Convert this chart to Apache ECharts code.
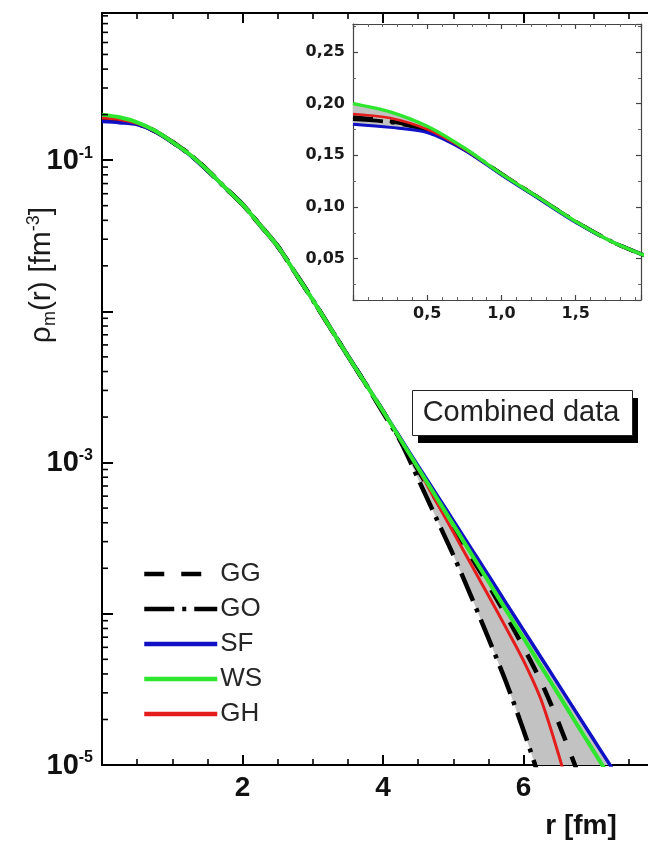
<!DOCTYPE html>
<html>
<head>
<meta charset="utf-8">
<script src="https://cdn.jsdelivr.net/npm/echarts@6/dist/echarts.min.js"></script>
<style>
html,body{margin:0;padding:0;background:#fff;}
#chart{width:648px;height:847px;}
</style>
</head>
<body>
<div id="chart"></div>
<script>
// ---- data ----
const R  = [0,0.25,0.5,0.75,1,1.25,1.5,1.75,2,2.25,2.5,2.75,3,3.25,3.5,3.75,4,4.25,4.5,4.75,5,5.25,5.5,5.75,6,6.25,6.5,6.75,7,7.25,7.5];
const WS = [0.200,0.192,0.178,0.157,0.132,0.109,0.086,0.066,0.051,0.0372,0.0270,0.0180,0.0119,0.00777,0.00507,0.00333,0.00219,0.00142,0.00092,0.000599,0.000389,0.000252,0.000164,0.000106,0.0000692,0.0000449,0.0000292,0.0000189,0.0000123,0.0000080,0.0000052];
const SF = [0.180,0.177,0.172,0.155,0.131,0.108,0.085,0.066,0.051,0.0372,0.0270,0.0180,0.0119,0.00778,0.00508,0.00335,0.00220,0.00145,0.00095,0.000628,0.000414,0.000273,0.000180,0.000118,0.0000780,0.0000514,0.0000339,0.0000223,0.0000147,0.0000097,0.0000064];
const GH = [0.190,0.186,0.175,0.156,0.132,0.109,0.086,0.066,0.051,0.0372,0.0270,0.0180,0.0119,0.00777,0.00507,0.00333,0.00219,0.00142,0.00091,0.000560,0.000347,0.000214,0.000132,0.0000810,0.0000490,0.0000270,0.0000117,0.0000045,null,null,null];
const GG = [0.187,0.183,0.175,0.156,0.132,0.109,0.086,0.066,0.051,0.0372,0.0270,0.0180,0.0119,0.00777,0.00507,0.00333,0.00219,0.00141,0.00089,0.000575,0.000372,0.000240,0.000155,0.0000980,0.0000600,0.0000355,0.0000190,0.0000095,null,null,null];
const GO = [0.185,0.182,0.174,0.156,0.132,0.109,0.086,0.066,0.051,0.0372,0.0270,0.0180,0.0119,0.00777,0.00507,0.00333,0.00214,0.00138,0.00078,0.000437,0.000245,0.000132,0.000069,0.0000355,0.0000170,0.0000076,null,null,null,null,null];

// axis ranges and tick labels
const X_MIN = 0, X_MAX = 8;
const Y_MIN = 1e-5, Y_MAX = 0.94;
const xTickLabels = [2, 4, 6];
const yLabelExponents = [-5, -3, -1];
const IN_X_MIN = 0, IN_X_MAX = 1.94;
const IN_Y_MIN = 0.01, IN_Y_MAX = 0.277;
const insetXTickLabels = [0.5, 1.0, 1.5];
const insetYTickLabels = [0.05, 0.10, 0.15, 0.20, 0.25];
const logMinorMultipliers = [2,3,4,5,6,7,8,9];
const logDecades = [-5,-4,-3,-2,-1];

const FONT = '"Liberation Sans", Arial, sans-serif';

// ---- derived ----
const models = [GG, GO, SF, WS, GH];
const bandLo = R.map((r, i) => {
  const vals = models.map(m => m[i]);
  if (vals.some(v => v == null)) return Y_MIN * 0.5;
  return Math.min.apply(null, vals);
});
const bandHi = R.map((r, i) => Math.max.apply(null, models.map(m => m[i]).filter(v => v != null)));
const pairs = arr => R.map((r, i) => [r, arr[i]]).filter(p => p[1] != null);

const minorTickVals = [];
logDecades.forEach(e => logMinorMultipliers.forEach(k => {
  const v = k * Math.pow(10, e);
  if (v < Y_MAX) minorTickVals.push([0, v]);
}));

const chart = echarts.init(document.getElementById('chart'), null, {renderer: 'canvas'});

function bandRender() {
  return function (params, api) {
    if (params.dataIndex !== 0) return null;
    const top = R.map((r, i) => api.coord([r, bandHi[i]]));
    const bot = R.map((r, i) => api.coord([r, bandLo[i]])).reverse();
    return {
      type: 'polygon',
      shape: {points: top.concat(bot)},
      style: {fill: '#c2c2c2', stroke: null}
    };
  };
}

const styles = {
  GG: {color: '#000', width: 4.5, type: [20, 17]},
  GO: {color: '#000', width: 4.5, type: [30, 8, 4, 8]},
  SF: {color: '#1010c4', width: 3.5, type: 'solid'},
  WS: {color: '#2ee62e', width: 4, type: 'solid'},
  GH: {color: '#e41c1c', width: 3, type: 'solid'}
};
const dataMap = {GG, GO, SF, WS, GH};
const drawOrder = ['GO', 'GG', 'SF', 'GH', 'WS'];

function lineSeries(name, xIdx, yIdx, widthScale) {
  const s = styles[name];
  return {
    type: 'line', name: name,
    xAxisIndex: xIdx, yAxisIndex: yIdx,
    data: pairs(dataMap[name]),
    showSymbol: false, symbol: 'none',
    smooth: 0.3, clip: true,
    lineStyle: {color: s.color, width: s.width * widthScale, type: s.type},
    itemStyle: {color: s.color},
    emphasis: {disabled: true},
    z: 3
  };
}

const series = [];
series.push({
  type: 'custom', name: 'band', xAxisIndex: 0, yAxisIndex: 0, clip: true, silent: true,
  data: R.map((r, i) => [r, bandLo[i], bandHi[i]]), renderItem: bandRender(), z: 2
});
drawOrder.forEach(n => series.push(lineSeries(n, 0, 0, 1)));
series.push({
  type: 'custom', name: 'insetBand', xAxisIndex: 2, yAxisIndex: 1, clip: true, silent: true,
  data: R.map((r, i) => [r, bandLo[i], bandHi[i]]), renderItem: bandRender(), z: 2
});
drawOrder.forEach(n => series.push(lineSeries(n, 2, 1, 0.85)));
// log minor ticks on the main y axis
series.push({
  type: 'custom', name: 'logMinorTicks', xAxisIndex: 0, yAxisIndex: 0, silent: true,
  data: minorTickVals,
  renderItem: function (params, api) {
    const p = api.coord([api.value(0), api.value(1)]);
    return {type: 'line', shape: {x1: p[0], y1: p[1], x2: p[0] + 6, y2: p[1]},
            style: {stroke: '#000', lineWidth: 1.6}};
  },
  z: 5
});

const near = (a, b) => Math.abs(a - b) < 1e-6;
const commaFmt = (v, d) => v.toFixed(d).replace('.', ',');

const option = {
  animation: false,
  backgroundColor: '#fff',
  textStyle: {fontFamily: FONT},
  grid: [
    {left: 102, top: 13, width: 562, height: 752, outerBoundsMode: 'none', containLabel: false},
    {left: 353, top: 24, width: 288, height: 276, outerBoundsMode: 'none', containLabel: false}
  ],
  legend: {
    data: ['GG', 'GO', 'SF', 'WS', 'GH'],
    orient: 'vertical', left: 137, top: 556,
    itemWidth: 73, itemHeight: 14, itemGap: 9,
    selectedMode: false,
    itemStyle: {opacity: 0, borderWidth: 0},
    lineStyle: {width: 4.5},
    textStyle: {fontFamily: FONT, fontSize: 26, color: '#262626', lineHeight: 26, padding: [0, 0, 0, -2]}
  },
  xAxis: [
    {
      type: 'value', gridIndex: 0, position: 'bottom', min: X_MIN, max: X_MAX, interval: 2,
      axisLine: {show: true, onZero: false, lineStyle: {color: '#000', width: 2}},
      axisTick: {show: true, inside: true, length: 10, lineStyle: {color: '#000', width: 2}},
      minorTick: {show: true, splitNumber: 4, length: 6, lineStyle: {color: '#000', width: 1.6}},
      splitLine: {show: false},
      axisLabel: {
        margin: 9, fontFamily: FONT, fontSize: 28, fontWeight: 'bold', color: '#111',
        formatter: v => xTickLabels.some(t => near(t, v)) ? String(v) : ''
      },
      name: 'r [fm]', nameLocation: 'middle', nameGap: 47, nameMoveOverlap: false,
      nameTextStyle: {fontFamily: FONT, fontSize: 28, fontWeight: 'bold', color: '#111', lineHeight: 28, padding: [0, 0, 0, 396]}
    },
    {
      type: 'value', gridIndex: 0, position: 'top', min: X_MIN, max: X_MAX, interval: 2,
      axisLine: {show: true, onZero: false, lineStyle: {color: '#000', width: 2}},
      axisTick: {show: true, inside: true, length: 10, lineStyle: {color: '#000', width: 2}},
      minorTick: {show: true, splitNumber: 4, length: 6, lineStyle: {color: '#000', width: 1.6}},
      splitLine: {show: false}, axisLabel: {show: false}
    },
    {
      type: 'value', gridIndex: 1, position: 'bottom', min: IN_X_MIN, max: IN_X_MAX, interval: 0.5,
      axisLine: {show: true, onZero: false, lineStyle: {color: '#444', width: 1.2}},
      axisTick: {show: true, inside: true, length: 5, lineStyle: {color: '#444', width: 1.2}},
      minorTick: {show: true, splitNumber: 5, length: 3, lineStyle: {color: '#666', width: 1}},
      splitLine: {show: false},
      axisLabel: {
        margin: 6, fontFamily: '"DejaVu Sans", sans-serif', fontSize: 16, fontWeight: 'bold', color: '#1a1a1a',
        formatter: v => insetXTickLabels.some(t => near(t, v)) ? commaFmt(v, 1) : ''
      }
    },
    {
      type: 'value', gridIndex: 1, position: 'top', min: IN_X_MIN, max: IN_X_MAX, interval: 0.5,
      axisLine: {show: true, onZero: false, lineStyle: {color: '#444', width: 1.2}},
      axisTick: {show: true, inside: true, length: 5, lineStyle: {color: '#444', width: 1.2}},
      minorTick: {show: true, splitNumber: 5, length: 3, lineStyle: {color: '#666', width: 1}},
      splitLine: {show: false}, axisLabel: {show: false}
    }
  ],
  yAxis: [
    {
      type: 'log', logBase: 10, gridIndex: 0, position: 'left', min: Y_MIN, max: Y_MAX,
      axisLine: {show: true, onZero: false, lineStyle: {color: '#000', width: 2}},
      axisTick: {show: true, inside: true, length: 11, lineStyle: {color: '#000', width: 2}},
      minorTick: {show: false}, splitLine: {show: false},
      axisLabel: {
        margin: 9, color: '#111',
        formatter: function (v) {
          const lg = Math.log10(v), e = Math.round(lg);
          if (Math.abs(lg - e) > 1e-6 || yLabelExponents.indexOf(e) < 0) return '';
          return '{b|10}{s|' + e + '}';
        },
        rich: {
          b: {fontFamily: FONT, fontSize: 29, fontWeight: 'bold', color: '#111', lineHeight: 30, verticalAlign: 'bottom'},
          s: {fontFamily: FONT, fontSize: 16, fontWeight: 'bold', color: '#111', lineHeight: 30, verticalAlign: 'top'}
        }
      },
      name: '{a|ρ}{m|m}{a|(r) [fm}{p|-3}{a|]}',
      nameLocation: 'middle', nameRotate: 90, nameGap: 43, nameMoveOverlap: false,
      nameTextStyle: {
        padding: [0, 0, 0, 228],
        rich: {
          a: {fontFamily: FONT, fontSize: 30, color: '#1a1a1a', lineHeight: 34, verticalAlign: 'middle'},
          m: {fontFamily: FONT, fontSize: 18, color: '#1a1a1a', lineHeight: 34, verticalAlign: 'bottom'},
          p: {fontFamily: FONT, fontSize: 18, color: '#1a1a1a', lineHeight: 34, verticalAlign: 'top'}
        }
      }
    },
    {
      type: 'value', gridIndex: 1, position: 'left', min: IN_Y_MIN, max: IN_Y_MAX, splitNumber: 5,
      axisLine: {show: true, onZero: false, lineStyle: {color: '#444', width: 1.2}},
      axisTick: {show: true, inside: true, length: 5, lineStyle: {color: '#444', width: 1.2}},
      minorTick: {show: true, splitNumber: 2, length: 3, lineStyle: {color: '#666', width: 1}},
      splitLine: {show: false},
      axisLabel: {
        margin: 8, fontFamily: '"DejaVu Sans", sans-serif', fontSize: 16, fontWeight: 'bold', color: '#1a1a1a',
        showMinLabel: false, showMaxLabel: false,
        formatter: v => insetYTickLabels.some(t => near(t, v)) ? commaFmt(v, 2) : ''
      }
    },
    {
      type: 'value', gridIndex: 1, position: 'right', min: IN_Y_MIN, max: IN_Y_MAX, splitNumber: 5,
      axisLine: {show: true, onZero: false, lineStyle: {color: '#444', width: 1.2}},
      axisTick: {show: true, inside: true, length: 5, lineStyle: {color: '#444', width: 1.2}},
      minorTick: {show: true, splitNumber: 2, length: 3, lineStyle: {color: '#666', width: 1}},
      splitLine: {show: false}, axisLabel: {show: false}
    }
  ],
  graphic: [
    {type: 'rect', left: 418, top: 398, shape: {width: 220, height: 45}, style: {fill: '#000'}, z: 10},
    {type: 'rect', left: 412, top: 390, shape: {width: 220, height: 45}, style: {fill: '#fff', stroke: '#222', lineWidth: 1}, z: 11},
    {type: 'text', x: 521, y: 413, z: 12,
     style: {text: 'Combined data', fontFamily: FONT, fontSize: 29, fill: '#222', align: 'center', verticalAlign: 'middle'}}
  ],
  series: series
};
chart.setOption(option);
</script>
</body>
</html>
